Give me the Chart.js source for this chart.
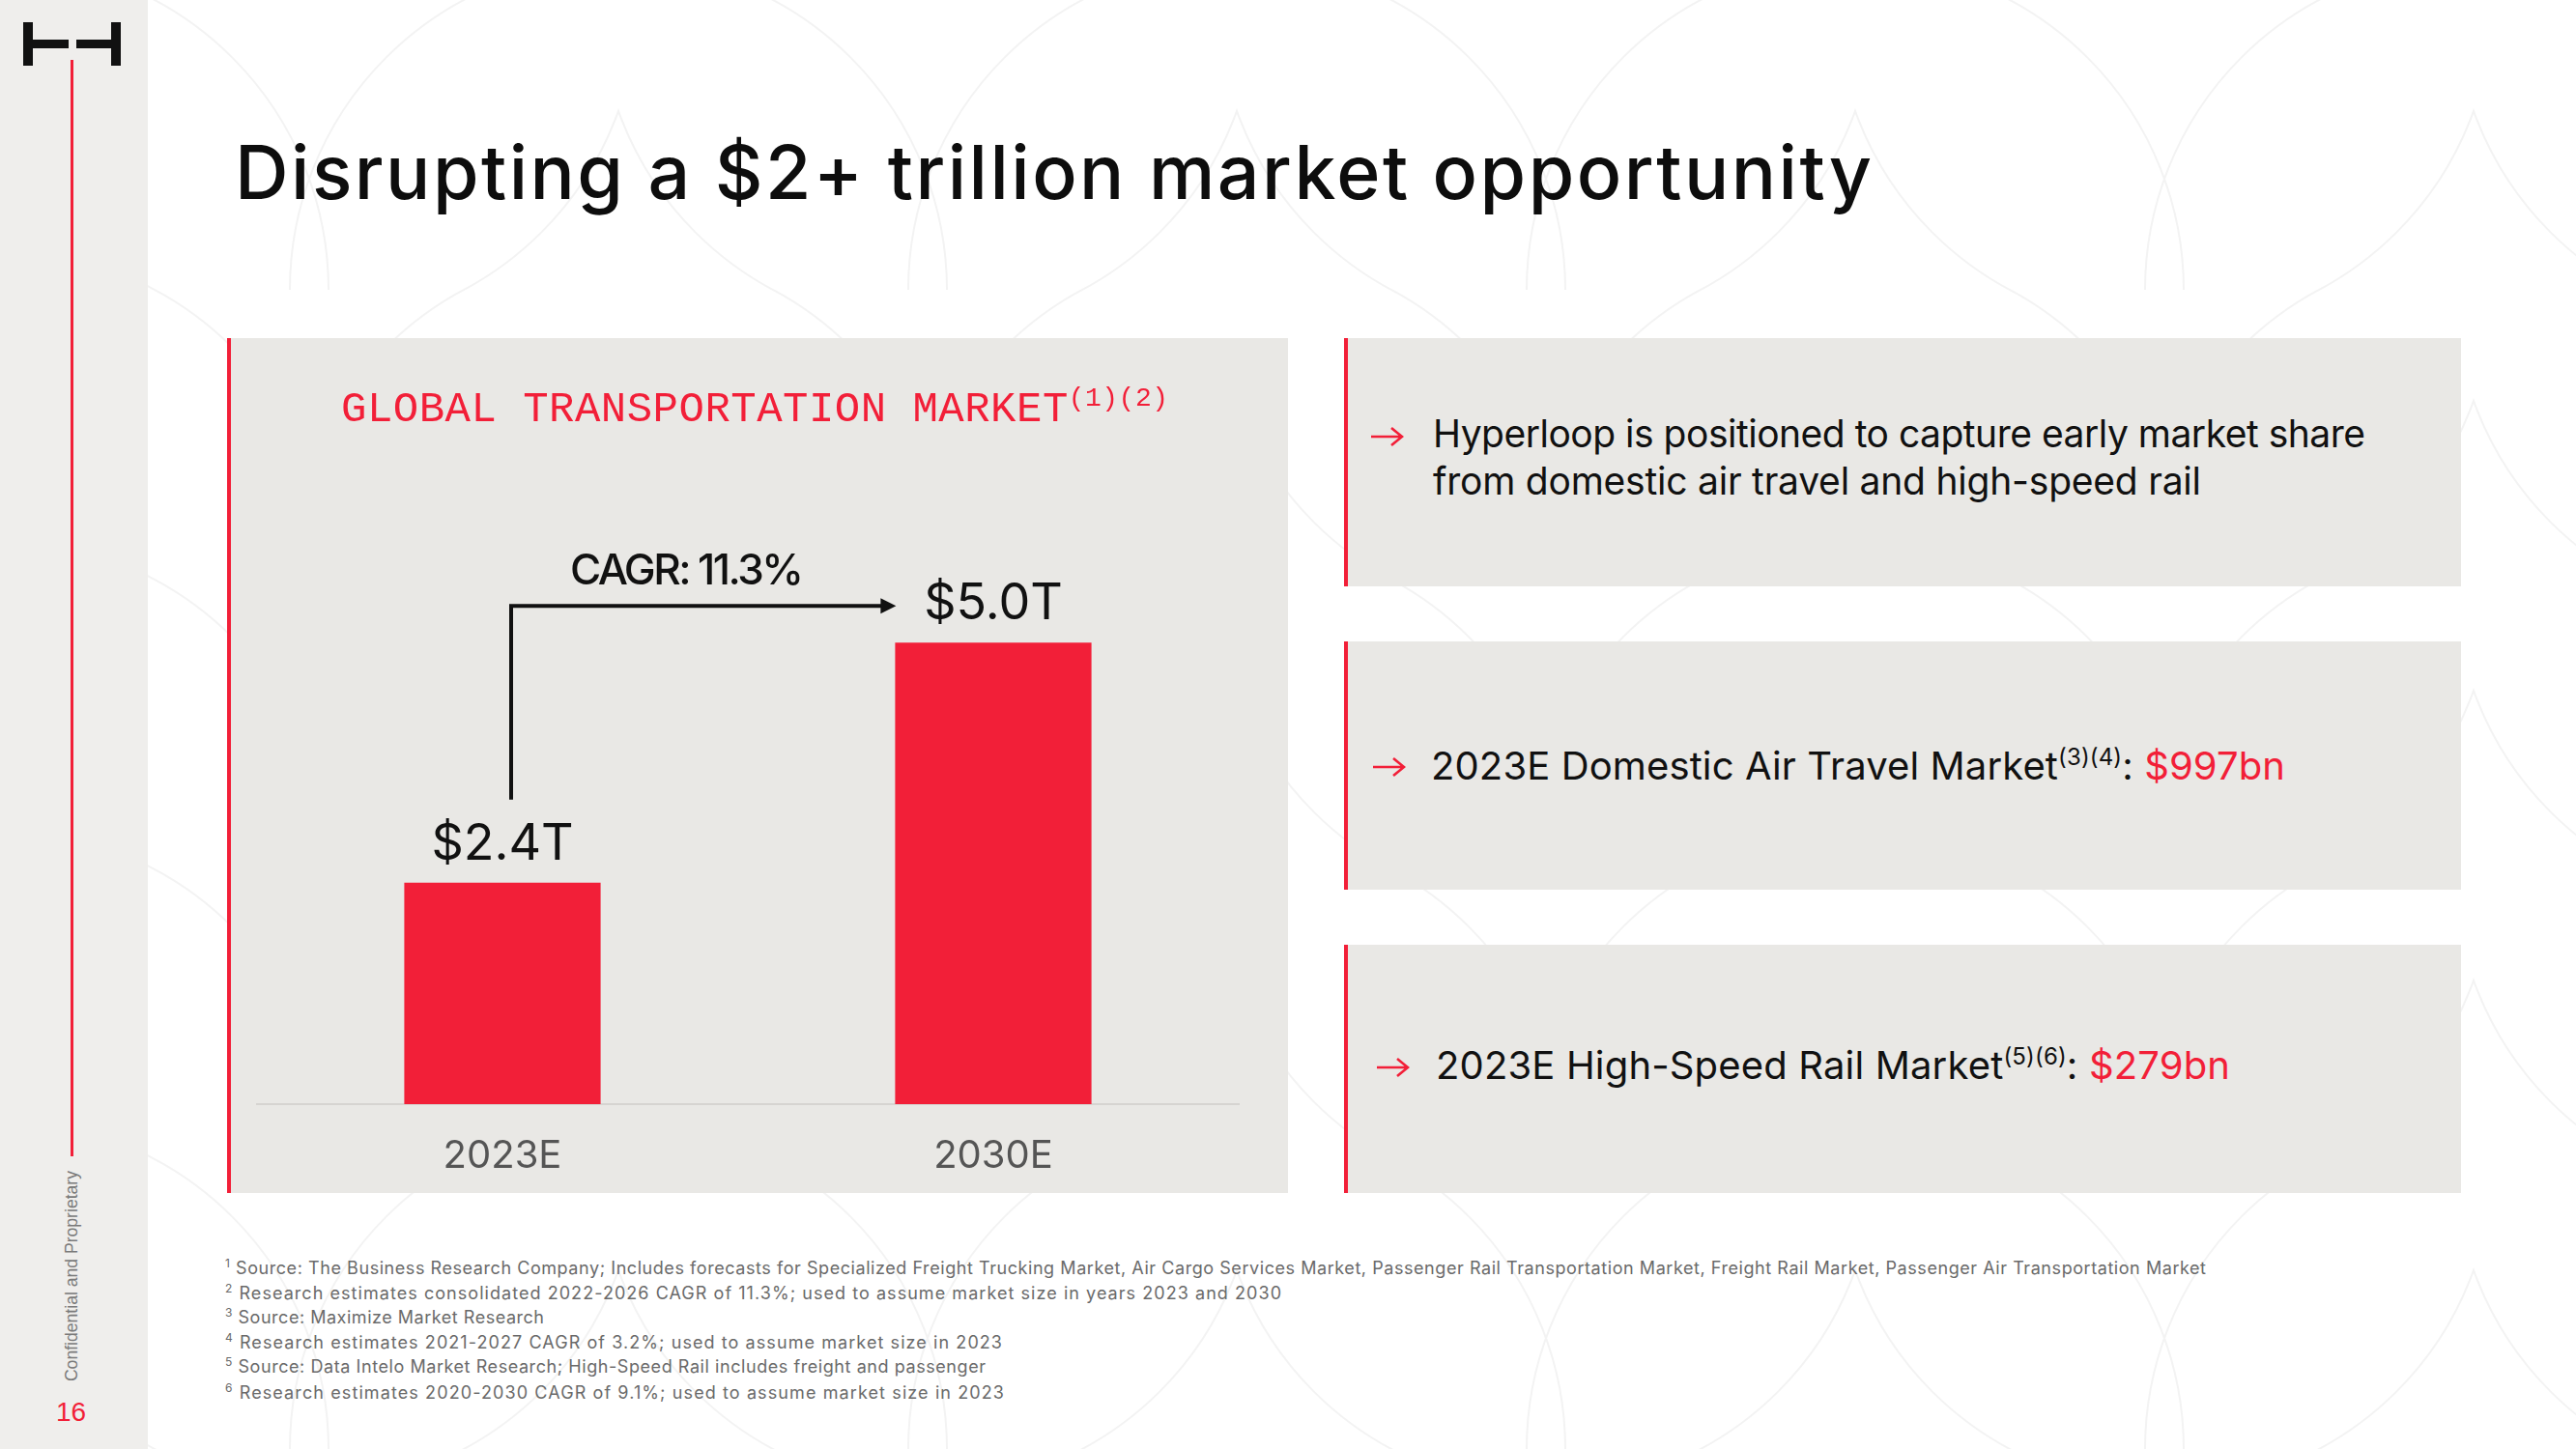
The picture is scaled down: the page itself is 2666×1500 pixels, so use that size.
<!DOCTYPE html>
<html>
<head>
<meta charset="utf-8">
<title>Disrupting a $2+ trillion market opportunity</title>
<script src="https://cdn.jsdelivr.net/npm/chart.js@4.4.1/dist/chart.umd.min.js"></script>
<style>
  html, body { margin: 0; padding: 0; }
  body {
    width: 2666px; height: 1500px; position: relative; overflow: hidden;
    background-color: #fff;
    background-image: url("data:image/svg+xml,%3Csvg xmlns='http://www.w3.org/2000/svg' width='640' height='300'%3E%3Cg fill='none' stroke='%23f3f3f3' stroke-width='2'%3E%3Ccircle cx='0' cy='300' r='340'/%3E%3Ccircle cx='640' cy='300' r='340'/%3E%3Ccircle cx='320' cy='0' r='340'/%3E%3C/g%3E%3C/svg%3E");
    font-family: Inter, 'Noto Sans', sans-serif; color: #111;
  }
  .abs { position: absolute; white-space: nowrap; line-height: 1; }
  .side { position: absolute; left: 0; top: 0; width: 153px; height: 1500px; background: #efeeec; }
  .logo { position: absolute; background: #111; }
  .panel { position: absolute; background: #e9e8e5; border-left: 4px solid #f21f38; box-sizing: border-box; }
  .title { font-size: 77px; font-weight: 500; color: #0d0d0d; }
  .chart-title { font-family: 'Liberation Mono', 'DejaVu Sans Mono', monospace; font-size: 44px; color: #f21f38; }
  .chart-title sup { font-size: 28px; position: relative; top: -16px; vertical-align: baseline; }
  .ptext { font-size: 39px; color: #111; }
  .ptext sup { font-size: 24px; position: relative; top: -15px; vertical-align: baseline; }
  .red { color: #f21f38; }
  .note { font-size: 18px; color: #6a6a6a; }
  .note sup { font-size: 12px; position: relative; top: -7px; vertical-align: baseline; }
  .arrow { position: absolute; width: 34px; height: 22px; }
  #marketChart { position: absolute; left: 239px; top: 350px; }
</style>
</head>
<body>

<div class="side"></div>
<!-- logo -->
<div class="logo" style="left:24px;top:23px;width:10px;height:45px"></div>
<div class="logo" style="left:34px;top:41px;width:37px;height:9px"></div>
<div class="logo" style="left:79px;top:41px;width:36px;height:9px"></div>
<div class="logo" style="left:115px;top:23px;width:10px;height:45px"></div>
<div style="position:absolute;left:73px;top:62px;width:3px;height:1135px;background:#f21f38"></div>
<div class="abs" style="left:66px;top:1212px;font-family:'Liberation Sans',Arial,sans-serif;font-size:17.6px;line-height:17.6px;color:#7a7a7a;writing-mode:vertical-rl;transform:rotate(180deg)">Confidential and Proprietary</div>
<div class="abs" style="left:58px;top:1448px;font-family:'Liberation Sans',Arial,sans-serif;font-size:28px;color:#f21f38">16</div>

<div class="abs title fit" data-w="1694" style="left:243px;top:140px">Disrupting a $2+ trillion market opportunity</div>

<!-- chart panel -->
<div class="panel" style="left:235px;top:350px;width:1098px;height:885px"></div>
<canvas id="marketChart" width="1094" height="885"></canvas>
<div class="abs chart-title fit" data-w="856" style="left:353px;top:402px">GLOBAL TRANSPORTATION MARKET<sup>(1)(2)</sup></div>

<!-- right panels -->
<div class="panel" style="left:1391px;top:350px;width:1156px;height:257px"></div>
<div class="panel" style="left:1391px;top:664px;width:1156px;height:257px"></div>
<div class="panel" style="left:1391px;top:978px;width:1156px;height:257px"></div>

<svg class="arrow" style="left:1419px;top:441px" viewBox="0 0 34 22"><path d="M0 11H31M21 2L32 11L21 20" fill="none" stroke="#f21f38" stroke-width="2.6"/></svg>
<div class="abs ptext fit" data-w="965" style="left:1483px;top:429px">Hyperloop is positioned to capture early market share</div>
<div class="abs ptext fit" data-w="795" style="left:1483px;top:478px">from domestic air travel and high-speed rail</div>

<svg class="arrow" style="left:1421px;top:783px" viewBox="0 0 34 22"><path d="M0 11H31M21 2L32 11L21 20" fill="none" stroke="#f21f38" stroke-width="2.6"/></svg>
<div class="abs ptext fit" data-w="884" style="left:1481px;top:773px;font-size:40px">2023E Domestic Air Travel Market<sup>(3)(4)</sup>: <span class="red">$997bn</span></div>

<svg class="arrow" style="left:1425px;top:1094px" viewBox="0 0 34 22"><path d="M0 11H31M21 2L32 11L21 20" fill="none" stroke="#f21f38" stroke-width="2.6"/></svg>
<div class="abs ptext fit" data-w="822" style="left:1486px;top:1083px;font-size:40px">2023E High-Speed Rail Market<sup>(5)(6)</sup>: <span class="red">$279bn</span></div>

<!-- footnotes -->
<div class="abs note fit" data-w="2050" style="left:233px;top:1304px"><sup>1</sup> Source: The Business Research Company; Includes forecasts for Specialized Freight Trucking Market, Air Cargo Services Market, Passenger Rail Transportation Market, Freight Rail Market, Passenger Air Transportation Market</div>
<div class="abs note fit" data-w="1093" style="left:233px;top:1330px"><sup>2</sup> Research estimates consolidated 2022-2026 CAGR of 11.3%; used to assume market size in years 2023 and 2030</div>
<div class="abs note fit" data-w="330" style="left:233px;top:1355px"><sup>3</sup> Source: Maximize Market Research</div>
<div class="abs note fit" data-w="804" style="left:233px;top:1381px"><sup>4</sup> Research estimates 2021-2027 CAGR of 3.2%; used to assume market size in 2023</div>
<div class="abs note fit" data-w="787" style="left:233px;top:1406px"><sup>5</sup> Source: Data Intelo Market Research; High-Speed Rail includes freight and passenger</div>
<div class="abs note fit" data-w="806" style="left:233px;top:1433px"><sup>6</sup> Research estimates 2020-2030 CAGR of 9.1%; used to assume market size in 2023</div>

<script>
// Valeurs du graphique (en billions de dollars)
const categories = ['2023E', '2030E'];
const marketSizeT = [2.4, 5.0];
const cagrLabel = 'CAGR: 11.3%';

const RED = '#f21f38';
const FONT = 'Inter';

// Ajuste l'espacement des lettres pour retrouver la largeur d'origine
function fitText(el) {
    const target = parseFloat(el.dataset.w);
    el.style.letterSpacing = '0px';
    const w = el.getBoundingClientRect().width;
    const n = Math.max(el.textContent.length - 1, 1);
    el.style.letterSpacing = ((target - w) / n) + 'px';
}
document.querySelectorAll('.fit').forEach(fitText);

// Étiquettes de valeur au-dessus des barres
const barLabels = {
    id: 'barLabels',
    afterDatasetsDraw(chart) {
        const ctx = chart.ctx;
        const meta = chart.getDatasetMeta(0);
        ctx.save();
        ctx.font = '400 52px ' + FONT;
        ctx.fillStyle = '#111';
        ctx.textAlign = 'center';
        ctx.textBaseline = 'alphabetic';
        meta.data.forEach((bar, i) => {
            ctx.fillText('$' + marketSizeT[i].toFixed(1) + 'T', bar.x, bar.y - 24);
        });
        ctx.restore();
    }
};

// Flèche CAGR entre les deux barres
const cagrArrow = {
    id: 'cagrArrow',
    afterDatasetsDraw(chart) {
        const ctx = chart.ctx;
        const meta = chart.getDatasetMeta(0);
        const a = meta.data[0];
        const b = meta.data[1];
        const x0 = a.x + 9;
        const yBottom = a.y - 86;
        const yTop = b.y - 38;
        const xTip = b.x - b.width / 2 + 1;

        ctx.save();
        ctx.strokeStyle = '#111';
        ctx.fillStyle = '#111';
        ctx.lineWidth = 4;
        ctx.lineJoin = 'miter';
        ctx.beginPath();
        ctx.moveTo(x0, yBottom);
        ctx.lineTo(x0, yTop);
        ctx.lineTo(xTip - 12, yTop);
        ctx.stroke();

        ctx.beginPath();
        ctx.moveTo(xTip, yTop);
        ctx.lineTo(xTip - 16, yTop - 8);
        ctx.lineTo(xTip - 16, yTop + 8);
        ctx.closePath();
        ctx.fill();

        ctx.font = '500 44px ' + FONT;
        ctx.textAlign = 'left';
        ctx.textBaseline = 'alphabetic';
        ctx.letterSpacing = '0px';
        const w = ctx.measureText(cagrLabel).width;
        ctx.letterSpacing = ((242 - w) / (cagrLabel.length - 1)) + 'px';
        ctx.fillText(cagrLabel, x0 + 61, yTop - 22);
        ctx.restore();
    }
};

const chartCtx = document.getElementById('marketChart');
new Chart(chartCtx, {
    type: 'bar',
    data: {
        labels: categories,
        datasets: [{
            data: marketSizeT,
            backgroundColor: RED,
            borderWidth: 0,
            barPercentage: 0.4,
            categoryPercentage: 1.0
        }]
    },
    options: {
        responsive: false,
        animation: false,
        devicePixelRatio: 1,
        layout: {
            padding: { left: 27, right: 51, top: 124, bottom: 0 }
        },
        scales: {
            x: {
                grid: { display: false, drawTicks: false },
                border: { display: true, color: '#d6d4d1', width: 2 },
                ticks: {
                    color: '#555',
                    font: { family: FONT, size: 40 },
                    padding: 30
                },
                afterFit(scale) {
                    scale.height = 92;
                }
            },
            y: {
                display: false,
                min: 0,
                max: 7
            }
        },
        plugins: {
            legend: { display: false },
            tooltip: { enabled: false }
        }
    },
    plugins: [barLabels, cagrArrow]
});

if (document.fonts && document.fonts.ready) {
    document.fonts.ready.then(() => document.querySelectorAll('.fit').forEach(fitText));
}
</script>
</body>
</html>
